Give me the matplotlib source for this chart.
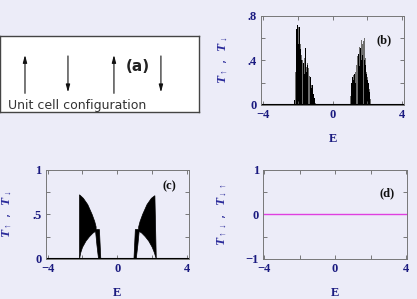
import numpy as np
import matplotlib.pyplot as plt

plt.rcParams['mathtext.fontset'] = 'custom'
plt.rcParams['mathtext.it'] = 'Liberation Serif:bold:italic'
plt.rcParams['mathtext.rm'] = 'Liberation Serif:bold'
plt.rcParams['mathtext.bf'] = 'Liberation Serif:bold'

# ---- datos ----
# panel (b): transmision por espin (bandas con picos)
E_b = [-2.20, -2.15, -2.10, -2.05, -2.00, -1.95, -1.90, -1.85, -1.80, -1.75, -1.70, -1.65, -1.60,
       -1.55, -1.50, -1.45, -1.40, -1.35, -1.30, -1.25, -1.20, -1.15, -1.10, -1.05, -1.00, -0.95,
       1.00, 1.05, 1.10, 1.15, 1.20, 1.25, 1.30, 1.35, 1.40, 1.45, 1.50, 1.55, 1.60,
       1.65, 1.70, 1.75, 1.80, 1.85, 1.90, 1.95, 2.00, 2.05, 2.10, 2.15, 2.20, 2.25]
T_arriba_b = [0.04, 0.20, 0.45, 0.68, 0.72, 0.55, 0.70, 0.50, 0.40, 0.52, 0.30, 0.38, 0.28,
              0.51, 0.30, 0.36, 0.22, 0.28, 0.20, 0.25, 0.15, 0.18, 0.10, 0.06, 0.02, 0.00,
              0.03, 0.12, 0.20, 0.25, 0.22, 0.28, 0.20, 0.32, 0.42, 0.30, 0.46, 0.35, 0.51,
              0.40, 0.45, 0.30, 0.58, 0.40, 0.36, 0.28, 0.22, 0.20, 0.12, 0.08, 0.03, 0.00]
T_abajo_b = [0.00, 0.10, 0.30, 0.50, 0.62, 0.70, 0.60, 0.55, 0.45, 0.42, 0.40, 0.36, 0.42,
             0.38, 0.34, 0.38, 0.33, 0.30, 0.26, 0.22, 0.18, 0.14, 0.10, 0.05, 0.02, 0.00,
             0.00, 0.08, 0.16, 0.24, 0.27, 0.26, 0.30, 0.36, 0.38, 0.44, 0.42, 0.52, 0.48,
             0.58, 0.55, 0.57, 0.67, 0.60, 0.42, 0.30, 0.25, 0.18, 0.14, 0.10, 0.05, 0.00]

# panel (c): envolventes de la oscilacion (banda izquierda y derecha)
E_sup_izq = [-2.17, -2.17, -1.95, -1.70, -1.45, -1.30, -1.22, -1.22, -1.03, -0.95]
T_sup_izq = [0.00, 0.72, 0.68, 0.61, 0.50, 0.42, 0.36, 0.33, 0.33, 0.00]
E_inf_izq = [-2.17, -2.10, -2.00, -1.80, -1.60, -1.40, -1.25, -1.17, -1.08]
T_inf_izq = [0.00, 0.07, 0.13, 0.20, 0.25, 0.29, 0.31, 0.15, 0.00]
E_sup_der = [0.95, 1.03, 1.22, 1.22, 1.30, 1.45, 1.70, 1.95, 2.15, 2.23]
T_sup_der = [0.00, 0.33, 0.33, 0.36, 0.42, 0.50, 0.61, 0.68, 0.71, 0.00]
E_inf_der = [1.08, 1.17, 1.25, 1.40, 1.60, 1.80, 2.00, 2.12, 2.23]
T_inf_der = [0.00, 0.15, 0.31, 0.29, 0.25, 0.20, 0.13, 0.07, 0.00]

# panel (d): transmision con cambio de espin
E_d = [-4, 4]
T_d = [0, 0]

# panel (a): configuracion de la celda
espines = [1, -1, 1, -1]
sitios = [25, 68, 114, 161]

fondo = '#ececf8'
azul = '#2b2b9b'
marino = '#1a1a80'

fig = plt.figure(figsize=(4.17, 2.99), dpi=100)
fig.patch.set_facecolor(fondo)


def estilo(ax, ylim, yticks, yminor, ylab):
    ax.set_facecolor(fondo)
    ax.set_xlim(-4.1, 4.1)
    ax.set_ylim(*ylim)
    ax.set_xticks([-4, 0, 4])
    ax.set_xticklabels(['\u22124', '0', '4'])
    ax.set_xticks([-2, 2], minor=True)
    ax.set_yticks(yticks)
    ax.set_yticks(yminor, minor=True)
    ax.tick_params(which='both', direction='in', top=True, right=True, color='#666666',
                   labelcolor=marino, labelsize=9, pad=3, length=3, width=0.6)
    for lab in ax.get_xticklabels() + ax.get_yticklabels():
        lab.set_family('Liberation Serif')
        lab.set_weight('bold')
    for s in ax.spines.values():
        s.set_color('#777777')
        s.set_linewidth(0.7)
    ax.set_xlabel('E', family='Liberation Serif', weight='bold', color=marino, fontsize=9)
    ax.xaxis.set_label_coords(0.5, -0.31)
    ax.set_ylabel(ylab, color=azul, fontsize=9.5)
    ax.yaxis.set_label_coords(-0.22, 0.5)


def etiquetas_y(ax, textos):
    ax.set_yticklabels(textos)
    for lab in ax.get_yticklabels():
        lab.set_family('Liberation Serif')
        lab.set_weight('bold')


# (a)
axa = fig.add_axes([0.0, 0.625, 0.477, 0.254])
axa.set_xlim(0, 199)
axa.set_ylim(112, 36)
axa.set_xticks([])
axa.set_yticks([])
for s in axa.spines.values():
    s.set_color('#444444')
    s.set_linewidth(1.0)
for x, s in zip(sitios, espines):
    if s > 0:
        ini, fin = 96, 52
    else:
        ini, fin = 53, 95
    axa.annotate('', xy=(x, fin), xytext=(x, ini),
                 arrowprops=dict(arrowstyle='-|>,head_length=0.45,head_width=0.12', color='#111111', lw=0.8))
axa.text(138, 66, '(a)', fontsize=11, weight='bold', ha='center', va='center', color='#222222')
axa.text(8, 108.5, 'Unit cell configuration', fontsize=9, color='#333333', ha='left', va='baseline')

# (b)
axb = fig.add_axes([0.626, 0.649, 0.343, 0.298])
axb.bar(E_b, T_abajo_b, width=0.05, color='#6e6e6e', linewidth=0)
axb.bar(E_b, T_arriba_b, width=0.04, color='black', linewidth=0)
axb.plot([-4.1, 4.1], [0, 0], color='black', lw=1.5)
estilo(axb, (0, 0.8), [0, 0.4, 0.8], [0.2, 0.6], r'$T_{\uparrow}$ ,  $T_{\downarrow}$')
etiquetas_y(axb, ['0', '.4', '.8'])
axb.text(0.86, 0.73, '(b)', transform=axb.transAxes, ha='center', va='center',
         family='Liberation Serif', weight='bold', fontsize=9, color='#111111')

# (c)
axc = fig.add_axes([0.110, 0.134, 0.343, 0.298])
axc.fill(E_sup_izq + E_inf_izq[::-1], T_sup_izq + T_inf_izq[::-1], color='black', lw=0.5)
axc.fill(E_sup_der + E_inf_der[::-1], T_sup_der + T_inf_der[::-1], color='black', lw=0.5)
axc.plot([-4.1, 4.1], [0, 0], color='black', lw=1.5)
estilo(axc, (0, 1), [0, 0.5, 1], [0.25, 0.75], r'$T_{\uparrow}$ ,  $T_{\downarrow}$')
etiquetas_y(axc, ['0', '.5', '1'])
axc.text(0.86, 0.81, '(c)', transform=axc.transAxes, ha='center', va='center',
         family='Liberation Serif', weight='bold', fontsize=9, color='#111111')

# (d)
axd = fig.add_axes([0.631, 0.134, 0.345, 0.298])
axd.plot(E_d, T_d, color='#e040e0', lw=1.0)
estilo(axd, (-1, 1), [-1, 0, 1], [-0.5, 0.5], r'$T_{\uparrow\downarrow}$ ,  $T_{\downarrow\uparrow}$')
axd.set_xlim(-4.05, 4.05)
etiquetas_y(axd, ['\u22121', '0', '1'])
axd.yaxis.set_label_coords(-0.24, 0.5)
axd.text(0.86, 0.74, '(d)', transform=axd.transAxes, ha='center', va='center',
         family='Liberation Serif', weight='bold', fontsize=9, color='#111111')

fig.savefig('out.png', dpi=100, facecolor=fondo)
